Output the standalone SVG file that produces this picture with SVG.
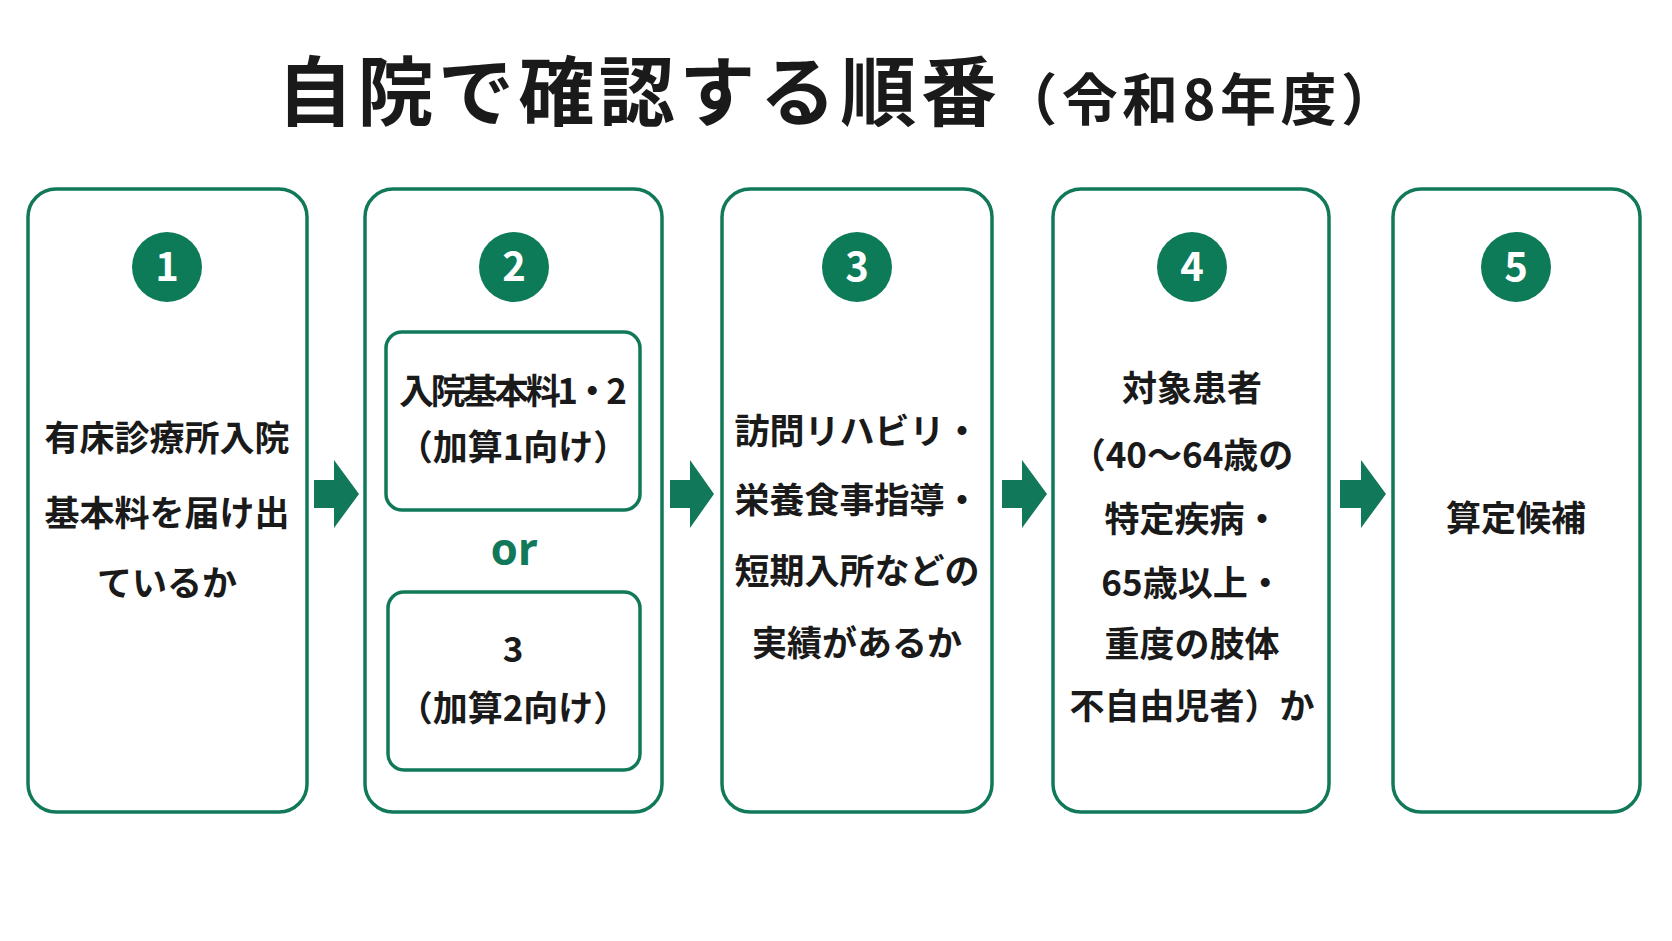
<svg xmlns="http://www.w3.org/2000/svg" width="1672" height="941" viewBox="0 0 1672 941">
<defs><style>
.box{fill:#fff;stroke:#11795a;stroke-width:3.5}
.c{fill:#0d7a58}
.n{fill:#fff;font:bold 40px "Noto Sans CJK JP","Noto Sans",sans-serif;text-anchor:middle}
.t{fill:#1a1a1a;font:bold 35px "Noto Sans CJK JP",sans-serif;text-anchor:middle}
.ar{fill:#11795a}
</style></defs>
<rect width="1672" height="941" fill="#fff"/>
<text x="837" y="120" text-anchor="middle" textLength="1120" lengthAdjust="spacing" style="font:bold 76px 'Noto Sans CJK JP',sans-serif" fill="#1a1a1a">自院で確認する順番<tspan font-size="56">（令和8年度）</tspan></text>
<g id="node1"><rect class="box" x="28" y="189" width="279" height="623" rx="28"/><circle class="c" cx="167" cy="267" r="35"/><text class="n" x="167" y="281">1</text>
<text class="t" x="167" y="451">有床診療所入院</text><text class="t" x="167" y="526">基本料を届け出</text><text class="t" x="167" y="596">ているか</text></g>
<g id="node2"><rect class="box" x="365" y="189" width="297" height="623" rx="28"/><circle class="c" cx="514" cy="267" r="35"/><text class="n" x="514" y="281">2</text>
<rect class="box" x="386" y="332" width="254" height="178" rx="16"/><text class="t" x="513" y="404" textLength="228">入院基本料1・2</text><text class="t" x="513" y="460">（加算1向け）</text>
<text x="514" y="565" text-anchor="middle" fill="#11795a" style="font:bold 44px 'Noto Sans','Noto Sans CJK JP',sans-serif">or</text>
<rect class="box" x="388" y="592" width="252" height="178" rx="16"/><text class="t" x="513" y="662">3</text><text class="t" x="513" y="721">（加算2向け）</text></g>
<g id="node3"><rect class="box" x="722" y="189" width="270" height="623" rx="28"/><circle class="c" cx="857" cy="267" r="35"/><text class="n" x="857" y="281">3</text>
<text class="t" x="857" y="444">訪問リハビリ・</text><text class="t" x="857" y="513">栄養食事指導・</text><text class="t" x="857" y="584">短期入所などの</text><text class="t" x="857" y="656">実績があるか</text></g>
<g id="node4"><rect class="box" x="1053" y="189" width="276" height="623" rx="28"/><circle class="c" cx="1192" cy="267" r="35"/><text class="n" x="1192" y="281">4</text>
<text class="t" x="1192" y="401">対象患者</text><text class="t" x="1182" y="468">（40～64歳の</text><text class="t" x="1192" y="532">特定疾病・</text><text class="t" x="1192" y="596">65歳以上・</text><text class="t" x="1192" y="657">重度の肢体</text><text class="t" x="1192" y="719">不自由児者）か</text></g>
<g id="node5"><rect class="box" x="1393" y="189" width="247" height="623" rx="28"/><circle class="c" cx="1516" cy="267" r="35"/><text class="n" x="1516" y="281">5</text>
<text class="t" x="1516" y="531">算定候補</text></g>
<g id="connectors">
<polygon class="ar" points="314,480 334,480 334,460 359,494 334,528 334,508 314,508"/>
<polygon class="ar" points="670,480 690,480 690,460 714,494 690,528 690,508 670,508"/>
<polygon class="ar" points="1002,480 1022,480 1022,460 1047,494 1022,528 1022,508 1002,508"/>
<polygon class="ar" points="1340,480 1361,480 1361,460 1386,494 1361,528 1361,508 1340,508"/>
</g>
</svg>
